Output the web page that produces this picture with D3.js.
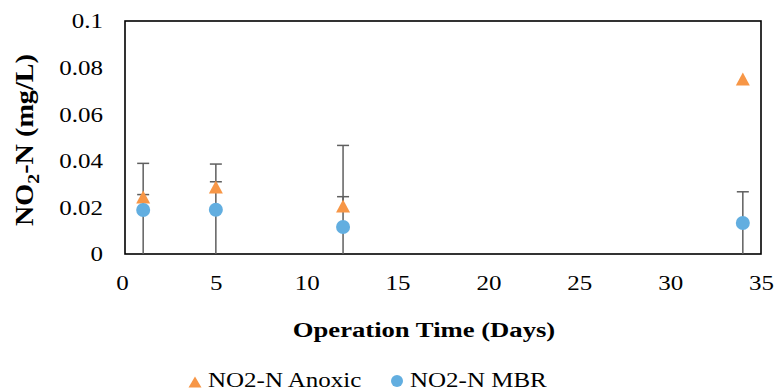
<!DOCTYPE html>
<html>
<head>
<meta charset="utf-8">
<script src="https://cdn.jsdelivr.net/npm/d3@7"></script>
<style>
  html, body { margin: 0; padding: 0; background: #fff; }
  svg { display: block; font-family: "Liberation Serif", "Times New Roman", serif; }
</style>
</head>
<body>
<div id="chart"></div>
<script>
// Sampling days (x)
const days = [1, 5, 12, 34];

// NO2-N in the anoxic tank (mg/L) and its error
const anoxicValues = [0.0245, 0.0288, 0.0206, 0.0751];
const anoxicErrors = [0.001, 0.0022, 0.004, 0];

// NO2-N in the MBR (mg/L) and its error
const mbrValues = [0.0189, 0.019, 0.0116, 0.0133];
const mbrErrors = [0.020, 0.0196, 0.035, 0.0134];

const xTicks = [0, 5, 10, 15, 20, 25, 30, 35];
const yTicks = [0, 0.02, 0.04, 0.06, 0.08, 0.1];
const legendLabels = ['NO2-N Anoxic', 'NO2-N MBR'];

class NitriteChart {
  constructor(containerId) {
    this.container = document.getElementById(containerId);
    this.width = 774;
    this.height = 392;
    this.margin = { top: 21, right: 13, bottom: 138, left: 125 };
    this.colors = {
      anoxic: '#F79646',
      mbr: '#62AEE0',
      error: '#5f5f5f'
    };
    // the source picture is a little wider than tall, text included
    this.stretch = 1.25;
    this.init();
  }

  init() {
    this.createSVG();
    this.createScales();
    this.drawAxes();
    this.drawErrorBars();
    this.drawMarkers();
    this.drawLegend();
  }

  createSVG() {
    this.svg = d3.select(this.container)
      .append('svg')
      .attr('width', this.width)
      .attr('height', this.height);
    this.svg.append('rect')
      .attr('width', this.width)
      .attr('height', this.height)
      .attr('fill', '#fff');
  }

  createScales() {
    const m = this.margin;
    this.x = d3.scaleLinear().domain([0, 35]).range([m.left, this.width - m.right]);
    this.y = d3.scaleLinear().domain([0, 0.1]).range([this.height - m.bottom, m.top]);
  }

  drawAxes() {
    const s = this.stretch;
    const bottom = this.y(0);

    const xAxis = this.svg.append('g')
      .attr('transform', `translate(0,${bottom})`)
      .call(d3.axisBottom(this.x).tickValues(xTicks).tickSize(0).tickFormat(d => String(d)));
    xAxis.select('.domain').remove();
    xAxis.selectAll('text')
      .attr('y', 0)
      .attr('dy', 0)
      .attr('transform', (d, i) => `translate(${i === 0 ? -3 : 0},36) scale(${s},1)`)
      .attr('font-size', 20)
      .attr('font-family', '"Liberation Serif", serif')
      .attr('fill', '#000');

    const yAxis = this.svg.append('g')
      .attr('transform', `translate(${this.x(0)},0)`)
      .call(d3.axisLeft(this.y).tickValues(yTicks).tickSize(0).tickFormat(d => String(d)));
    yAxis.select('.domain').remove();
    yAxis.selectAll('text')
      .attr('x', 0)
      .attr('dy', '0.34em')
      .attr('text-anchor', 'end')
      .attr('transform', `translate(-22,0) scale(${s},1)`)
      .attr('font-size', 20)
      .attr('font-family', '"Liberation Serif", serif')
      .attr('fill', '#000');

    // plot area frame
    this.svg.append('rect')
      .attr('x', this.x(0))
      .attr('y', this.y(0.1))
      .attr('width', this.x(35) - this.x(0))
      .attr('height', this.y(0) - this.y(0.1))
      .attr('fill', 'none')
      .attr('stroke', '#000')
      .attr('stroke-width', 1.6);

    // axis titles
    this.svg.append('text')
      .attr('transform', `translate(424,337) scale(${s},1)`)
      .attr('text-anchor', 'middle')
      .attr('font-size', 20)
      .attr('font-weight', 'bold')
      .attr('textLength', 210)
      .attr('lengthAdjust', 'spacingAndGlyphs')
      .text('Operation Time (Days)');

    const yTitle = this.svg.append('text')
      .attr('transform', `translate(33,140) scale(${s},1) rotate(-90)`)
      .attr('text-anchor', 'middle')
      .attr('font-size', 20)
      .attr('font-weight', 'bold')
      .attr('textLength', 172)
      .attr('lengthAdjust', 'spacingAndGlyphs');
    yTitle.append('tspan').text('NO');
    yTitle.append('tspan').attr('font-size', 14).attr('dy', 5).text('2');
    yTitle.append('tspan').attr('dy', -5).text('-N (mg/L)');
  }

  drawErrorBars() {
    // anoxic bars only go up, the MBR ones both ways (cut at the axis)
    const series = [
      { values: anoxicValues, errors: anoxicErrors, both: false },
      { values: mbrValues, errors: mbrErrors, both: true }
    ];
    const g = this.svg.append('g')
      .attr('stroke', this.colors.error)
      .attr('stroke-width', 1.5);
    const cap = 6;

    series.forEach(sr => {
      days.forEach((d, i) => {
        if (!sr.errors[i]) return;
        const cx = this.x(d);
        const lo = sr.both ? Math.max(0, sr.values[i] - sr.errors[i]) : sr.values[i];
        const hi = sr.values[i] + sr.errors[i];
        g.append('line')
          .attr('x1', cx).attr('x2', cx)
          .attr('y1', this.y(lo)).attr('y2', this.y(hi));
        g.append('line')
          .attr('x1', cx - cap).attr('x2', cx + cap)
          .attr('y1', this.y(hi)).attr('y2', this.y(hi));
      });
    });
  }

  trianglePath(w, h) {
    return `M0,${-h / 2}L${w / 2},${h / 2}L${-w / 2},${h / 2}Z`;
  }

  drawMarkers() {
    this.svg.append('g')
      .selectAll('path')
      .data(days)
      .enter()
      .append('path')
      .attr('d', this.trianglePath(14, 13))
      .attr('transform', (d, i) => `translate(${this.x(d)},${this.y(anoxicValues[i])})`)
      .attr('fill', this.colors.anoxic);

    this.svg.append('g')
      .selectAll('circle')
      .data(days)
      .enter()
      .append('circle')
      .attr('cx', d => this.x(d))
      .attr('cy', (d, i) => this.y(mbrValues[i]))
      .attr('r', 7)
      .attr('fill', this.colors.mbr);
  }

  drawLegend() {
    const s = this.stretch;
    const items = [
      { label: legendLabels[0], color: this.colors.anoxic, shape: 'triangle', x: 195 },
      { label: legendLabels[1], color: this.colors.mbr, shape: 'circle', x: 397 }
    ];
    const legendY = 381;

    items.forEach(item => {
      if (item.shape === 'triangle') {
        this.svg.append('path')
          .attr('d', this.trianglePath(13, 11))
          .attr('transform', `translate(${item.x},${legendY + 1})`)
          .attr('fill', item.color);
      } else {
        this.svg.append('circle')
          .attr('cx', item.x)
          .attr('cy', legendY)
          .attr('r', 6)
          .attr('fill', item.color);
      }
      this.svg.append('text')
        .attr('transform', `translate(${item.x + 13},387) scale(${s},1)`)
        .attr('font-size', 20)
        .text(item.label);
    });
  }
}

new NitriteChart('chart');
</script>
</body>
</html>
